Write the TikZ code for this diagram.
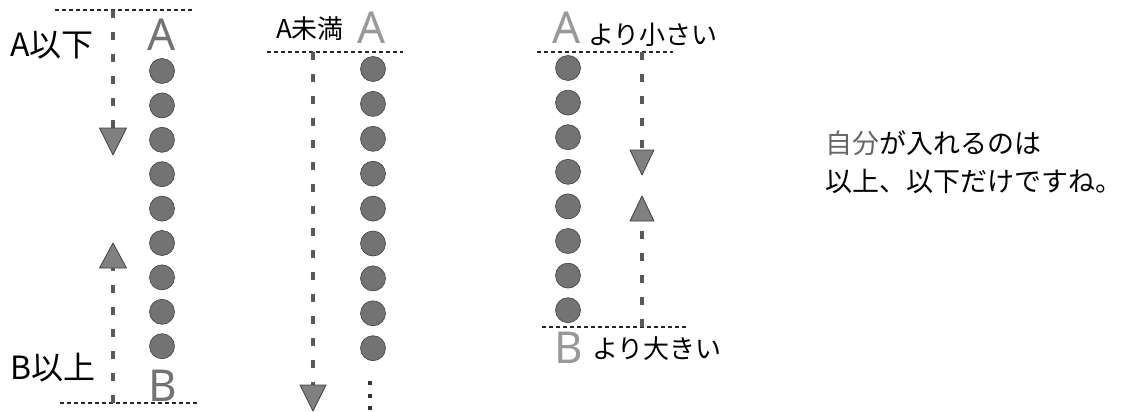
\documentclass[tikz,border=0pt]{standalone}
\usepackage{fontspec}
\setmainfont{Noto Sans CJK JP}
\newfontfamily\latinsans{Noto Sans}
\usetikzlibrary{calc}
\tikzset{
  hdash/.style={draw=black!85, line width=1.6pt, dash pattern=on 4pt off 3pt},
  vdash/.style={draw=black!65, line width=3.5pt, dash pattern=on 8pt off 14pt},
  head/.style={fill=black!50, draw=black!75, line width=0.8pt, line join=round},
  dot/.style={circle, minimum size=25pt, inner sep=0pt, fill=black!55, draw=black!75, line width=0.6pt},
  bigletter/.style={inner sep=0pt, font=\latinsans\fontsize{44}{44}\selectfont},
  lab/.style={inner sep=0pt, font=\fontsize{32}{36}\selectfont},
  slab/.style={inner sep=0pt, font=\fontsize{26}{30}\selectfont},
  note/.style={inner sep=0pt, anchor=west, font=\fontsize{27}{30}\selectfont},
  edot/.style={fill=black!80, inner sep=0pt, minimum size=3.5pt, rectangle},
}
\begin{document}
\begin{tikzpicture}[x=1pt,y=-1pt]
\useasboundingbox (0,0) rectangle (1129,412);

% ---------- Panel 1 ----------
\coordinate (p1tl) at (55,10);
\coordinate (p1tr) at (192,10);
\coordinate (p1bl) at (60,403);
\coordinate (p1br) at (197,403);
\draw[hdash] (p1tl) -- (p1tr);
\draw[hdash] (p1bl) -- (p1br);
\node[bigletter, text=black!55] (p1A) at (162,35) {A};
\node[bigletter, text=black!55] (p1B) at (163,386) {B};
\node[lab] (p1la) at (52,45) {A以下};
\node[lab] (p1lb) at (53,368) {B以上};
\foreach \k in {0,...,8} {
  \node[dot] (p1c\k) at (162,{71+34.4*\k}) {};
}
% down arrow
\coordinate (p1ds) at (113,10);
\coordinate (p1dt) at (113,155);
\draw[vdash] (p1ds) -- ($(p1dt)+(0,-27)$);
\filldraw[head] ($(p1dt)+(-13.5,-27)$) -- ($(p1dt)+(13.5,-27)$) -- (p1dt) -- cycle;
% up arrow
\coordinate (p1us) at (113,403);
\coordinate (p1ut) at (113,243);
\draw[vdash] (p1us) -- ($(p1ut)+(0,25)$);
\filldraw[head] ($(p1ut)+(-13.5,25)$) -- ($(p1ut)+(13.5,25)$) -- (p1ut) -- cycle;

% ---------- Panel 2 ----------
\coordinate (p2tl) at (267,52);
\coordinate (p2tr) at (403,52);
\draw[hdash] (p2tl) -- (p2tr);
\node[slab] (p2la) at (310,29) {A未満};
\node[bigletter, text=black!40] (p2A) at (372,28) {A};
\foreach \k in {0,...,8} {
  \node[dot] (p2c\k) at (373,{69+34.9*\k}) {};
}
\node[edot] (p2e1) at (370,383) {};
\node[edot] (p2e2) at (370,396) {};
\node[edot] (p2e3) at (370,408) {};
\coordinate (p2ds) at (313,52);
\coordinate (p2dt) at (313,411);
\draw[vdash] (p2ds) -- ($(p2dt)+(0,-26)$);
\filldraw[head] ($(p2dt)+(-13,-26)$) -- ($(p2dt)+(13,-26)$) -- (p2dt) -- cycle;

% ---------- Panel 3 ----------
\coordinate (p3tl) at (537,52);
\coordinate (p3tr) at (673,52);
\coordinate (p3bl) at (542,327);
\coordinate (p3br) at (687,327);
\draw[hdash] (p3tl) -- (p3tr);
\draw[hdash] (p3bl) -- (p3br);
\node[bigletter, text=black!40] (p3A) at (567,28) {A};
\node[bigletter, text=black!40] (p3B) at (569,348) {B};
\node[slab, anchor=west] (p3la) at (588,35) {より小さい};
\node[slab, anchor=west] (p3lb) at (592,349) {より大きい};
\foreach \k in {0,...,7} {
  \node[dot] (p3c\k) at (568,{68+34.6*\k}) {};
}
\coordinate (p3ds) at (642,52);
\coordinate (p3dt) at (642,175);
\draw[vdash] (p3ds) -- ($(p3dt)+(0,-25)$);
\filldraw[head] ($(p3dt)+(-12,-25)$) -- ($(p3dt)+(12,-25)$) -- (p3dt) -- cycle;
\coordinate (p3us) at (642,327);
\coordinate (p3ut) at (642,196);
\draw[vdash] (p3us) -- ($(p3ut)+(0,25)$);
\filldraw[head] ($(p3ut)+(-12,25)$) -- ($(p3ut)+(12,25)$) -- (p3ut) -- cycle;

% ---------- Note ----------
\node[note] (n1) at (825,143) {{\color{black!60}自分}が入れるのは};
\node[note] (n2) at (825,181) {以上、以下だけですね。};
\end{tikzpicture}
\end{document}
